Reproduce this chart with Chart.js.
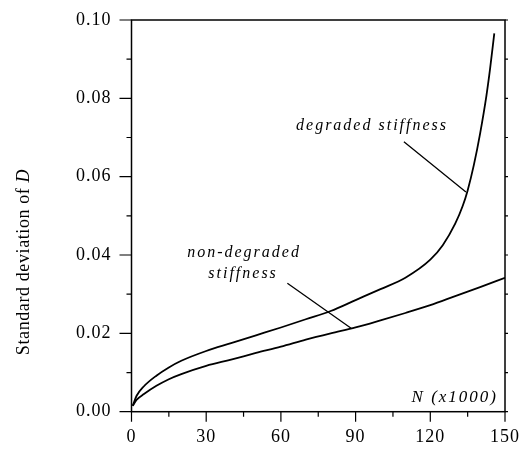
<!DOCTYPE html>
<html>
<head>
<meta charset="utf-8">
<script src="https://cdn.jsdelivr.net/npm/chart.js@4.4.0/dist/chart.umd.min.js"></script>
<style>
    html, body { margin: 0; padding: 0; background: #fff; }
    #chartBox { width: 525px; height: 453px; }
</style>
</head>
<body>
<div id="chartBox"><canvas id="sdChart" width="525" height="453"></canvas></div>
<script>
// Load cycles N (x1000) and standard deviation of damage D
const cyclesDegraded = [0.5, 2, 5, 10, 15, 20, 30, 40, 50, 60, 70, 80, 90, 100, 110, 120, 125, 130, 133, 135, 137.5, 140, 142.5, 144, 145.7];
const sdDegraded = [0.0015, 0.004, 0.0065, 0.0092, 0.0113, 0.013, 0.0155, 0.0175, 0.0195, 0.0215, 0.0236, 0.0257, 0.0285, 0.0313, 0.0342, 0.0388, 0.0425, 0.048, 0.0525, 0.0565, 0.063, 0.071, 0.0805, 0.0875, 0.0966];

const cyclesNonDegraded = [0.5, 2, 5, 10, 15, 20, 30, 40, 50, 60, 70, 80, 90, 100, 110, 120, 130, 140, 150];
const sdNonDegraded = [0.0015, 0.003, 0.0045, 0.0066, 0.0083, 0.0096, 0.0117, 0.0133, 0.015, 0.0166, 0.0184, 0.02, 0.0215, 0.0233, 0.0252, 0.0272, 0.0295, 0.0318, 0.0342];

// Axis tick labels
const xTickValues = [0, 30, 60, 90, 120, 150];
const yTickValues = [0, 0.02, 0.04, 0.06, 0.08, 0.10];

const serif = '"Liberation Serif", "Times New Roman", serif';

function toPoints(xs, ys) {
    return xs.map((x, i) => ({ x: x, y: ys[i] }));
}

// Frame, tick marks, annotations and axis titles
const decorPlugin = {
    id: 'decor',
    beforeDraw(chart) {
        chart.ctx.letterSpacing = '1px';
    },
    afterDraw(chart) {
        const ctx = chart.ctx;
        const area = chart.chartArea;
        const xs = chart.scales.x;
        const ys = chart.scales.y;

        ctx.save();
        ctx.letterSpacing = '0px';
        ctx.strokeStyle = '#000';
        ctx.lineWidth = 1.5;
        ctx.strokeRect(area.left, area.top, area.right - area.left, area.bottom - area.top);

        ctx.lineWidth = 1.2;
        ctx.beginPath();
        // bottom ticks, major every 30, minor every 15
        for (let k = 0; k <= 10; k++) {
            const px = xs.getPixelForValue(k * 15);
            const len = k % 2 ? 5 : 10;
            ctx.moveTo(px, area.bottom);
            ctx.lineTo(px, area.bottom + len);
        }
        // left ticks, major every 0.02, minor every 0.01
        for (let k = 0; k <= 10; k++) {
            const py = ys.getPixelForValue(k * 0.01);
            const len = k % 2 ? 5 : 12;
            ctx.moveTo(area.left, py);
            ctx.lineTo(area.left - len, py);
            ctx.moveTo(area.right, py);
            ctx.lineTo(area.right + 3, py);
        }
        ctx.stroke();

        // leader lines
        ctx.lineWidth = 1.3;
        ctx.beginPath();
        ctx.moveTo(xs.getPixelForValue(109.4), ys.getPixelForValue(0.0689));
        ctx.lineTo(xs.getPixelForValue(134.3), ys.getPixelForValue(0.0561));
        ctx.moveTo(xs.getPixelForValue(62.6), ys.getPixelForValue(0.0328));
        ctx.lineTo(xs.getPixelForValue(88.2), ys.getPixelForValue(0.0213));
        ctx.stroke();

        // annotations
        ctx.fillStyle = '#000';
        ctx.textAlign = 'center';
        ctx.textBaseline = 'alphabetic';
        ctx.font = 'italic 16px ' + serif;
        ctx.letterSpacing = '2px';
        ctx.fillText('degraded stiffness', xs.getPixelForValue(96.6), ys.getPixelForValue(0.0719));
        ctx.fillText('non-degraded', xs.getPixelForValue(45.2), ys.getPixelForValue(0.0396));
        ctx.fillText('stiffness', xs.getPixelForValue(44.8), ys.getPixelForValue(0.0341));

        // x axis title inside the plot
        ctx.textAlign = 'right';
        ctx.font = 'italic 17px ' + serif;
        ctx.fillText('N (x1000)', area.right - 7, area.bottom - 10);

        // y axis title, rotated, with italic D
        ctx.letterSpacing = '0.6px';
        const partA = 'Standard deviation of ';
        const partB = 'D';
        ctx.font = '18px ' + serif;
        const wA = ctx.measureText(partA).width;
        ctx.font = 'italic 18px ' + serif;
        const wB = ctx.measureText(partB).width;
        ctx.translate(29, 262);
        ctx.rotate(-Math.PI / 2);
        ctx.textAlign = 'left';
        ctx.font = '18px ' + serif;
        ctx.fillText(partA, -(wA + wB) / 2, 0);
        ctx.font = 'italic 18px ' + serif;
        ctx.fillText(partB, -(wA + wB) / 2 + wA, 0);
        ctx.restore();
    }
};

const ctx = document.getElementById('sdChart').getContext('2d');
const sdChart = new Chart(ctx, {
    type: 'scatter',
    data: {
        datasets: [{
            label: 'degraded stiffness',
            data: toPoints(cyclesDegraded, sdDegraded),
            showLine: true,
            borderColor: '#000',
            borderWidth: 1.8,
            pointRadius: 0,
            cubicInterpolationMode: 'monotone'
        }, {
            label: 'non-degraded stiffness',
            data: toPoints(cyclesNonDegraded, sdNonDegraded),
            showLine: true,
            borderColor: '#000',
            borderWidth: 1.8,
            pointRadius: 0,
            cubicInterpolationMode: 'monotone'
        }]
    },
    options: {
        responsive: false,
        animation: false,
        devicePixelRatio: 1,
        layout: { padding: { top: 20, right: 20, left: 0, bottom: 0 } },
        plugins: {
            legend: { display: false },
            tooltip: { enabled: false }
        },
        scales: {
            x: {
                type: 'linear',
                min: 0,
                max: 150,
                afterBuildTicks: scale => { scale.ticks = xTickValues.map(v => ({ value: v })); },
                afterFit: scale => {
                    scale.height = 41.3;
                    scale.paddingLeft = 0;
                    scale.paddingRight = 0;
                },
                grid: { display: false, drawTicks: false },
                border: { display: false },
                ticks: {
                    padding: 15,
                    color: '#000',
                    maxRotation: 0,
                    font: { family: serif, size: 18 }
                }
            },
            y: {
                type: 'linear',
                min: 0,
                max: 0.1,
                afterBuildTicks: scale => { scale.ticks = yTickValues.map(v => ({ value: v })); },
                afterFit: scale => {
                    scale.width = 131.5;
                    scale.paddingTop = 0;
                    scale.paddingBottom = 0;
                },
                grid: { display: false, drawTicks: false },
                border: { display: false },
                ticks: {
                    padding: 20,
                    color: '#000',
                    font: { family: serif, size: 18 },
                    callback: v => v.toFixed(2)
                }
            }
        }
    },
    plugins: [decorPlugin]
});
</script>
</body>
</html>
